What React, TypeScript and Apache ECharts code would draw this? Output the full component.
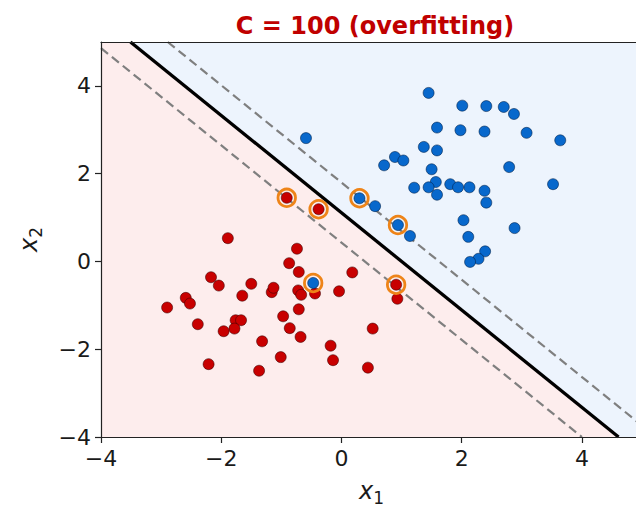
import React, { useEffect, useRef } from "react";
import * as echarts from "echarts";

const titleText = "C = 100 (overfitting)";
const xTicks = [-4, -2, 0, 2, 4];
const yTicks = [-4, -2, 0, 2, 4];

const redPoints: number[][] = [
  [-1.89, 0.53], [-2.17, -0.36], [-2.04, -0.55], [-1.5, -0.51], [-1.65, -0.78],
  [-1.16, -0.7], [-1.13, -0.6], [-2.59, -0.83], [-2.52, -0.96], [-2.9, -1.05],
  [-2.39, -1.43], [-1.76, -1.34], [-1.67, -1.34], [-1.78, -1.53], [-1.96, -1.59],
  [-1.32, -1.82], [-2.21, -2.34], [-1.37, -2.49], [-0.74, 0.29], [-0.87, -0.04],
  [-0.71, -0.24], [0.18, -0.25], [-0.44, -0.73], [-0.72, -0.66], [-0.67, -0.76],
  [-0.04, -0.68], [-0.71, -1.09], [-0.97, -1.25], [-0.86, -1.52], [-0.68, -1.72],
  [0.52, -1.53], [-0.18, -1.92], [-0.14, -2.25], [-1.01, -2.18], [0.44, -2.42],
  [0.91, -0.53], [0.93, -0.85], [-0.91, 1.45], [-0.38, 1.19],
];

const bluePoints: number[][] = [
  [-0.47, -0.49], [-0.59, 2.81], [0.71, 2.19], [0.89, 2.38], [1.03, 2.3],
  [0.3, 1.44], [0.56, 1.26], [0.94, 0.83], [1.14, 0.58], [1.45, 3.84],
  [2.01, 3.55], [2.41, 3.54], [2.7, 3.52], [2.87, 3.36], [1.59, 3.05],
  [1.98, 2.99], [2.38, 2.96], [1.37, 2.61], [1.59, 2.53], [1.5, 2.1],
  [2.79, 2.15], [1.57, 1.81], [1.21, 1.68], [1.45, 1.69], [1.81, 1.76],
  [1.94, 1.69], [2.13, 1.69], [2.38, 1.61], [1.59, 1.52], [2.41, 1.34],
  [3.52, 1.76], [2.03, 0.94], [2.88, 0.76], [2.11, 0.56], [2.39, 0.23],
  [2.28, 0.06], [2.14, -0.01], [3.08, 2.93], [3.64, 2.76],
];

const supportVectors: number[][] = [
  [-0.91, 1.45], [-0.38, 1.19], [0.3, 1.44], [0.94, 0.83], [-0.47, -0.49], [0.91, -0.53],
];

const boundaryLine: number[][] = [[-3.51, 5], [4.61, -4]];
const upperMargin: number[][] = [[-2.89, 5], [5, -3.74]];
const lowerMargin: number[][] = [[-4, 4.86], [4.0, -4]];

const redRegion: number[][] = [[-4, 5], [-3.51, 5], [4.61, -4], [-4, -4]];
const blueRegion: number[][] = [[-3.51, 5], [5, 5], [5, -4], [4.61, -4]];
const regions = [redRegion, blueRegion];
const regionColors = ["#fdeded", "#edf4fd"];

const FONT = "DejaVu Sans";
const fmt = (v: number) => String(v).replace("-", "\u2212");

const nameRich = {
  x: { fontSize: 24, fontStyle: "italic", fontFamily: FONT, color: "#1a1a1a", verticalAlign: "bottom", padding: [0, 0, 3, 0] },
  s: { fontSize: 17, fontFamily: FONT, color: "#1a1a1a", verticalAlign: "bottom" },
};

export default function App() {
  const ref = useRef<HTMLDivElement>(null);
  useEffect(() => {
    if (!ref.current) return;
    const chart = echarts.init(ref.current, null, { renderer: "svg" });
    const axisLineStyle = { color: "#222", width: 1.2 };
    chart.setOption({
      animation: false,
      backgroundColor: "#ffffff",
      title: {
        text: titleText,
        left: 370,
        textAlign: "center",
        top: 9,
        textStyle: { color: "#c00000", fontFamily: FONT, fontWeight: "bold", fontSize: 24 },
      },
      grid: { left: 101, top: 42, width: 541, height: 397 },
      xAxis: [
        {
          type: "value", min: -4, max: 5, interval: 2, position: "bottom", z: 10,
          axisLine: { show: true, onZero: false, lineStyle: axisLineStyle },
          axisTick: { show: true, length: 6, customValues: xTicks, lineStyle: axisLineStyle },
          axisLabel: { customValues: xTicks, formatter: fmt, fontSize: 22, fontFamily: FONT, color: "#1a1a1a", margin: 10 },
          splitLine: { show: false },
          name: "{x|x}{s|1}", nameLocation: "middle", nameGap: 42,
          nameTextStyle: { rich: nameRich },
        },
        {
          type: "value", min: -4, max: 5, position: "top", z: 10,
          axisLine: { show: true, onZero: false, lineStyle: axisLineStyle },
          axisTick: { show: false }, axisLabel: { show: false }, splitLine: { show: false },
        },
      ],
      yAxis: [
        {
          type: "value", min: -4, max: 5, interval: 2, position: "left", z: 10,
          axisLine: { show: true, onZero: false, lineStyle: axisLineStyle },
          axisTick: { show: true, length: 6, customValues: yTicks, lineStyle: axisLineStyle },
          axisLabel: { customValues: yTicks, formatter: fmt, fontSize: 22, fontFamily: FONT, color: "#1a1a1a", margin: 10 },
          splitLine: { show: false },
          name: "{x|x}{s|2}", nameLocation: "middle", nameGap: 57,
          nameTextStyle: { rich: nameRich },
        },
        {
          type: "value", min: -4, max: 5, position: "right", z: 10,
          axisLine: { show: true, onZero: false, lineStyle: axisLineStyle },
          axisTick: { show: false }, axisLabel: { show: false }, splitLine: { show: false },
        },
      ],
      series: [
        {
          type: "custom",
          silent: true,
          z: 1,
          data: regions.map(() => [0, 0]),
          renderItem: (params: any, api: any) => {
            const poly = regions[params.dataIndex];
            return {
              type: "polygon",
              shape: { points: poly.map((p) => api.coord(p)) },
              style: { fill: regionColors[params.dataIndex], stroke: null },
            };
          },
        },
        {
          type: "line", data: lowerMargin, showSymbol: false, z: 3, silent: true,
          lineStyle: { color: "#7f7f7f", width: 2.2, type: [9, 5] },
        },
        {
          type: "line", data: upperMargin, showSymbol: false, z: 3, silent: true,
          lineStyle: { color: "#7f7f7f", width: 2.2, type: [9, 5] },
        },
        {
          type: "line", data: boundaryLine, showSymbol: false, z: 3, silent: true,
          lineStyle: { color: "#000000", width: 3.3 },
        },
        {
          type: "scatter", data: redPoints, symbolSize: 11, z: 4,
          itemStyle: { color: "#c80000", borderColor: "rgba(60,0,0,0.7)", borderWidth: 0.8, opacity: 1 },
        },
        {
          type: "scatter", data: bluePoints, symbolSize: 11, z: 5,
          itemStyle: { color: "#0868cc", borderColor: "rgba(0,30,70,0.7)", borderWidth: 0.8, opacity: 1 },
        },
        {
          type: "scatter", data: supportVectors, symbolSize: 17.5, z: 6,
          itemStyle: { color: "none", borderColor: "#ee8418", borderWidth: 2.8, opacity: 1 },
        },
      ],
    });
    return () => chart.dispose();
  }, []);
  return (
    <div style={{ position: "absolute", left: 0, top: 0, width: 636, height: 511, overflow: "hidden" }}>
      <div ref={ref} style={{ width: 650, height: 511 }} />
    </div>
  );
}
